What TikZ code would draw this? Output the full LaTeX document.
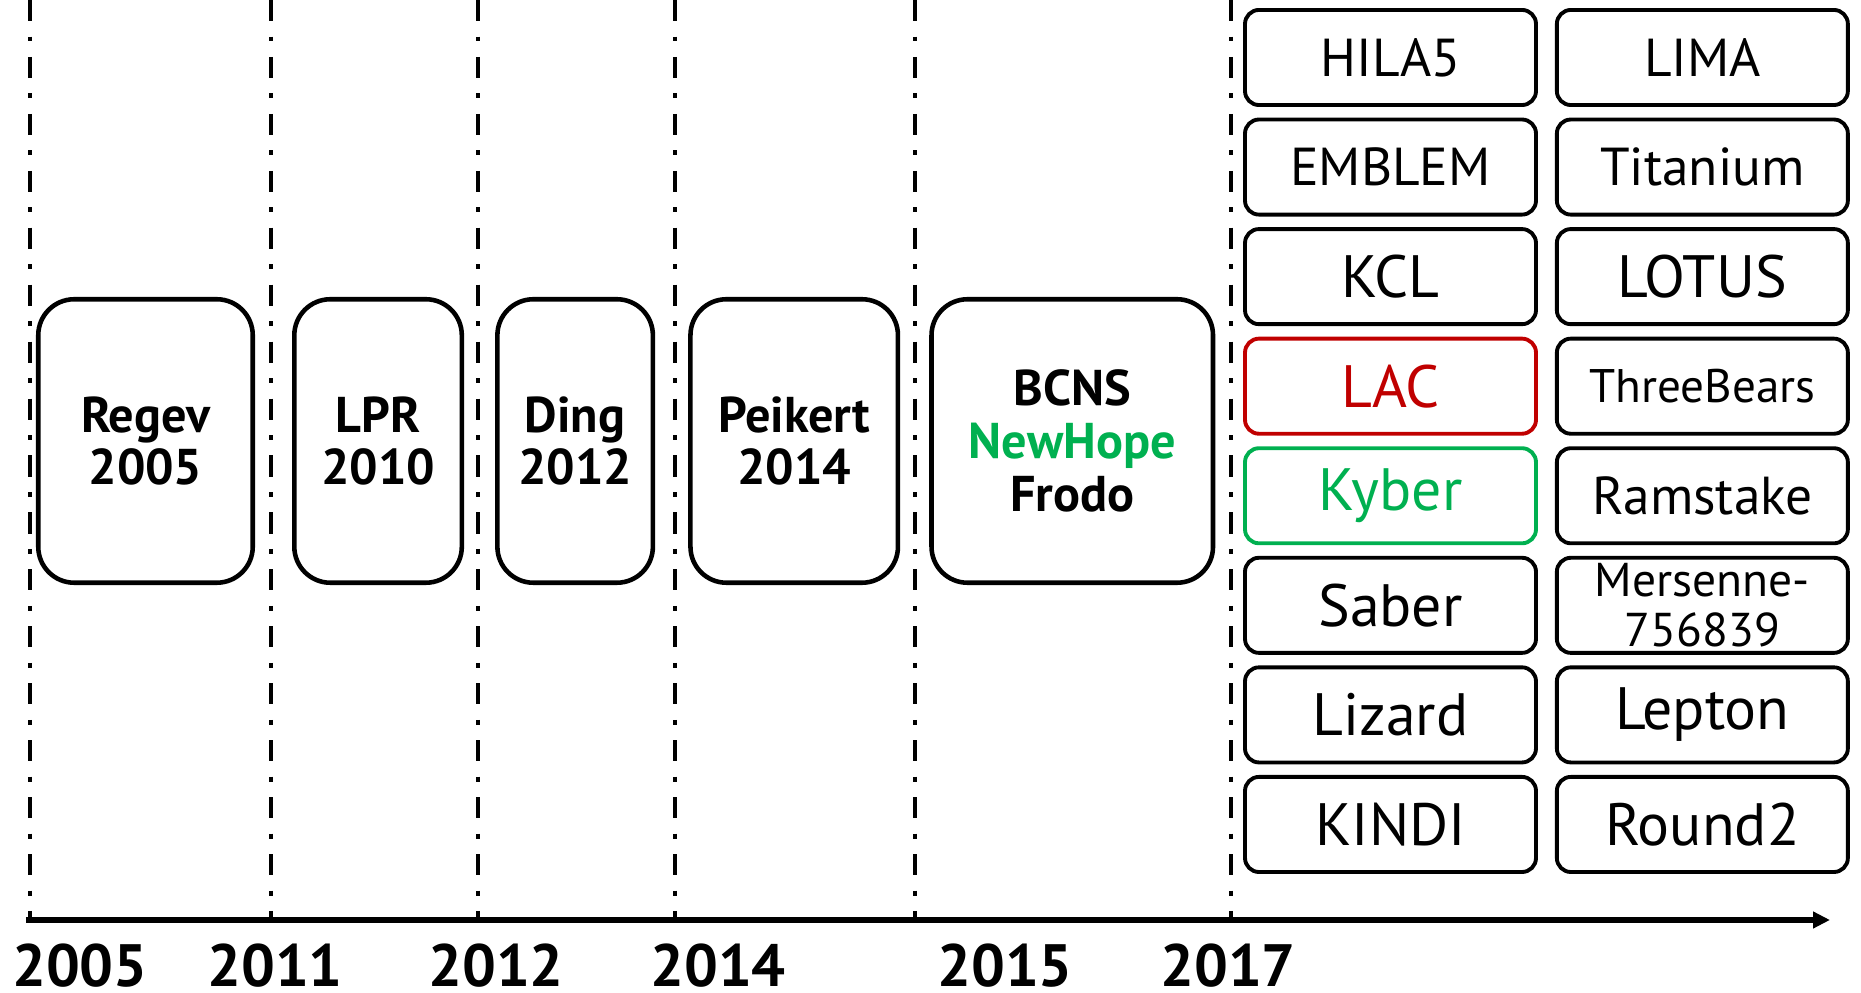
\documentclass[tikz,border=0pt]{standalone}
\usepackage{fontspec}
\setmainfont{PT Sans}
\usetikzlibrary{shapes,arrows,arrows.meta,positioning}

\definecolor{hopegreen}{RGB}{0,176,80}
\definecolor{lacred}{RGB}{192,0,0}

\begin{document}
\begin{tikzpicture}[
    node distance=0.106cm,
    era/.style={rectangle, draw, rounded corners=0.36cm, line width=1.3pt, minimum height=2.835cm, align=center, font=\fontsize{14.3}{15}\selectfont\bfseries},
    scheme/.style={rectangle, draw, rounded corners=0.14cm, line width=1.1pt, minimum width=2.91cm, minimum height=0.951cm, inner ysep=0pt, align=center, font=\fontsize{17}{18}\selectfont},
    smaller/.style={font=\fontsize{15.2}{16}\selectfont},
    year/.style={inner sep=0pt, font=\fontsize{17}{17}\selectfont\bfseries},
    split/.style={line width=1.3pt, dash pattern=on 6pt off 4.4pt on 1.4pt off 4.4pt},
    arrow/.style={-{Triangle[length=0.17cm,width=0.16cm]}, line width=1.5pt}
]
    \useasboundingbox (0,0) rectangle (18.61,9.93);

    % year separators
    \foreach \x in {0.30,2.71,4.78,6.75,9.15,12.31}
        \draw[split] (\x,9.93) -- (\x,0.73);

    % time axis
    \coordinate (start) at (0.26,0.73);
    \coordinate (end) at (18.30,0.73);
    \draw[arrow] (start) -- (end);

    \node[year] (y2005) at (0.80,0.27) {2005};
    \node[year] (y2011) at (2.75,0.27) {2011};
    \node[year] (y2012) at (4.96,0.27) {2012};
    \node[year] (y2014) at (7.18,0.27) {2014};
    \node[year] (y2015) at (10.05,0.27) {2015};
    \node[year] (y2017) at (12.28,0.27) {2017};

    % early schemes
    \node[era, minimum width=2.145cm] (regev) at (1.455,5.52) {Regev\\2005};
    \node[era, minimum width=1.675cm, right=0.37cm of regev] (lpr) {LPR\\2010};
    \node[era, minimum width=1.555cm, right=0.31cm of lpr] (ding) {Ding\\2012};
    \node[era, minimum width=2.075cm, right=0.33cm of ding] (peikert) {Peikert\\2014};
    \node[era, minimum width=2.815cm, right=0.29cm of peikert] (bcns) {BCNS\\\textcolor{hopegreen}{NewHope}\\Frodo};

    % 2017 submissions
    \node[scheme, smaller] (hila) at (13.905,9.355) {HILA5};
    \node[scheme, smaller, below=of hila] (emblem) {EMBLEM};
    \node[scheme, below=of emblem] (kcl) {KCL};
    \node[scheme, below=of kcl, draw=lacred, text=lacred] (lac) {LAC};
    \node[scheme, below=of lac, draw=hopegreen, text=hopegreen] (kyber) {Kyber};
    \node[scheme, below=of kyber] (saber) {Saber};
    \node[scheme, below=of saber] (lizard) {Lizard};
    \node[scheme, below=of lizard] (kindi) {KINDI};

    \node[scheme, smaller, right=0.17cm of hila] (lima) {LIMA};
    \node[scheme, smaller, below=of lima] (titanium) {Titanium};
    \node[scheme, below=of titanium] (lotus) {LOTUS};
    \node[scheme, below=of lotus, font=\fontsize{13.4}{14}\selectfont] (threebears) {ThreeBears};
    \node[scheme, smaller, below=of threebears] (ramstake) {Ramstake};
    \node[scheme, below=of ramstake, font=\fontsize{13.5}{14.2}\selectfont] (mersenne) {Mersenne-\\756839};
    \node[scheme, below=of mersenne] (lepton) {Lepton};
    \node[scheme, below=of lepton] (round) {Round2};
\end{tikzpicture}
\end{document}
